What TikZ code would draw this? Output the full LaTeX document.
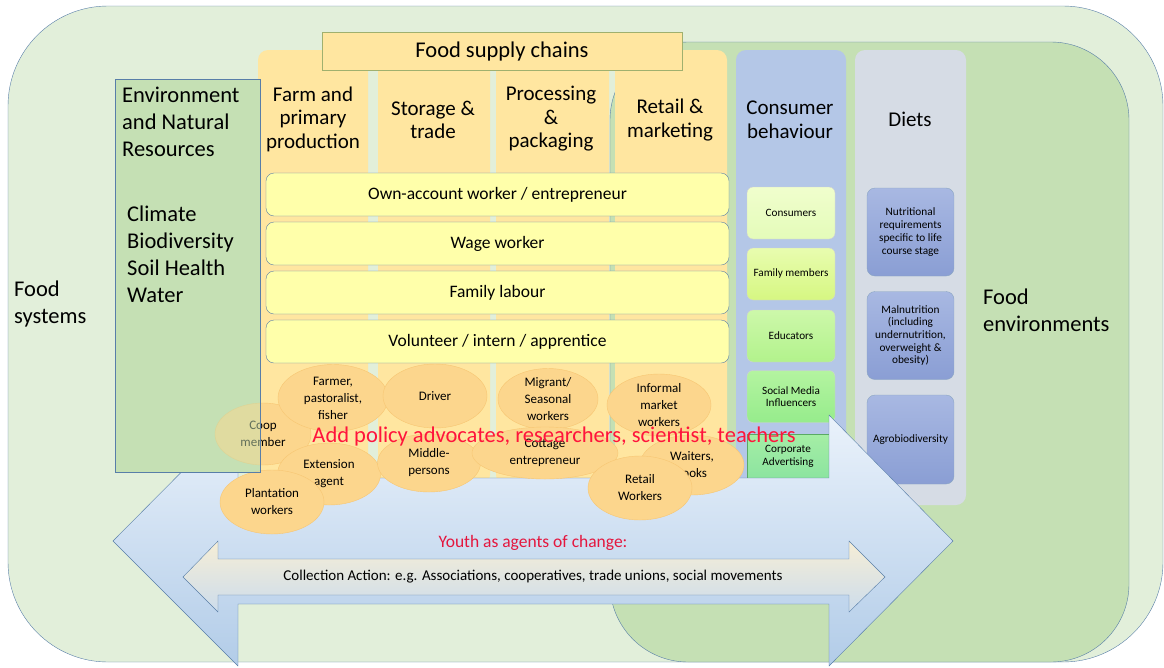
\documentclass[tikz,border=0pt]{standalone}
\usepackage{fontspec}
\setmainfont{Carlito}
\usetikzlibrary{shapes.geometric}

\definecolor{edgeblue}{RGB}{88,126,168}
\definecolor{sysgreen}{RGB}{226,239,218}
\definecolor{envgreen}{RGB}{197,224,180}
\definecolor{chainorange}{RGB}{255,230,160}
\definecolor{headedge}{RGB}{160,176,110}
\definecolor{rowyellow}{RGB}{255,255,170}
\definecolor{consblue}{RGB}{180,199,231}
\definecolor{dietgray}{RGB}{214,220,229}
\definecolor{blobfill}{RGB}{252,214,141}
\definecolor{blobedge}{RGB}{247,198,115}
\definecolor{alertred}{RGB}{255,20,60}
\definecolor{youthred}{RGB}{228,22,62}

\begin{document}
\begin{tikzpicture}[x=1pt, y=-1pt,
    column/.style={rounded corners=10pt},
    rowbox/.style={draw=edgeblue, fill=rowyellow, rounded corners=8pt, minimum width=463pt, minimum height=43pt, font=\fontsize{17.5}{20}\selectfont},
    cbox/.style={draw=black!18, rounded corners=6pt, minimum width=88pt, minimum height=52pt, align=center, inner sep=1pt, font=\fontsize{11.2}{12.7}\selectfont},
    dbox/.style={draw=edgeblue!70, rounded corners=8pt, top color={rgb,255:red,168;green,184;blue,226}, bottom color={rgb,255:red,138;green,158;blue,212}, minimum width=87pt, minimum height=88pt, align=center, inner sep=1pt, font=\fontsize{11.3}{12.7}\selectfont},
    blob/.style={ellipse, draw=blobedge, fill=blobfill, inner sep=0pt, align=center, font=\fontsize{13}{17}\selectfont},
    title/.style={align=center, font=\fontsize{21}{23.5}\selectfont},
    bigtext/.style={align=left, inner sep=0pt, font=\fontsize{22.5}{27}\selectfont}]
  \useasboundingbox (0,0) rectangle (1164,667);

  % Food systems and food environments
  \draw[edgeblue, fill=sysgreen] (8,6) [rounded corners=100pt] rectangle (1163,662);
  \draw[edgeblue, fill=envgreen] (610,42) [rounded corners=78pt] rectangle (1129,662);

  % Supply chain columns
  \fill[chainorange, column] (258,50) rectangle (368,485);
  \fill[chainorange, column] (378,50) rectangle (490,485);
  \fill[chainorange, column] (496,50) rectangle (609,485);
  \fill[chainorange, column] (615,50) rectangle (727,485);
  \fill[consblue, column] (736,50) rectangle (846,485);
  \fill[dietgray, column] (855,50) rectangle (966,505);

  \node[draw=headedge, fill=chainorange, minimum width=360pt, minimum height=38pt, font=\fontsize{22.5}{26}\selectfont] (chains) at (502,51.5) {Food supply chains};

  \node[title] (farm) at (313,119) {Farm and\\primary\\production};
  \node[title] (storage) at (433,120) {Storage \&\\trade};
  \node[title] (processing) at (551,119) {Processing\\\&\\packaging};
  \node[title] (retail) at (670,120) {Retail \&\\marketing};
  \node[title] (consumer) at (790,120) {Consumer\\behaviour};
  \node[title] (diets) at (910,119) {Diets};

  % Kinds of work
  \node[rowbox] (own) at (497.5,194.5) {Own-account worker / entrepreneur};
  \node[rowbox] (wage) at (497.5,243.5) {Wage worker};
  \node[rowbox] (family) at (497.5,292.5) {Family labour};
  \node[rowbox] (volunteer) at (497.5,341.5) {Volunteer / intern / apprentice};

  % Consumer behaviour boxes
  \node[cbox, top color={rgb,255:red,240;green,254;blue,205}, bottom color={rgb,255:red,228;green,252;blue,185}] (consumers) at (791,213) {Consumers};
  \node[cbox, top color={rgb,255:red,232;green,252;blue,175}, bottom color={rgb,255:red,214;green,247;blue,130}] (members) at (791,274) {Family members};
  \node[cbox, top color={rgb,255:red,205;green,248;blue,170}, bottom color={rgb,255:red,178;green,242;blue,140}] (educators) at (791,336) {Educators};
  \node[cbox, top color={rgb,255:red,180;green,244;blue,160}, bottom color={rgb,255:red,150;green,236;blue,140}] (influencers) at (791,396.5) {Social Media\\Influencers};
  \node[cbox, draw={rgb,255:red,90;green,170;blue,100}, rounded corners=0pt, minimum width=82pt, minimum height=44pt, top color={rgb,255:red,165;green,238;blue,165}, bottom color={rgb,255:red,140;green,228;blue,160}] (advertising) at (788,456) {Corporate\\Advertising};

  % Diets boxes
  \node[dbox] (requirements) at (910.5,232) {Nutritional\\requirements\\specific to life\\course stage};
  \node[dbox] (malnutrition) at (910.5,335.5) {Malnutrition\\(including\\undernutrition,\\overweight \&\\obesity)};
  \node[dbox, minimum height=89pt] (agro) at (910.5,439.5) {Agrobiodiversity};

  % Youth arrow
  \draw[edgeblue, top color={rgb,255:red,234;green,242;blue,251}, bottom color={rgb,255:red,178;green,204;blue,232}]
    (113,541) -- (238,415) -- (238,478) -- (829,478) -- (829,415) -- (953,541)
    -- (829,666) -- (829,604) -- (238,604) -- (238,666) -- cycle;
  \draw[edgeblue, top color={rgb,255:red,246;green,238;blue,214}, bottom color={rgb,255:red,204;green,220;blue,236}]
    (183,577) -- (218,541) -- (218,559) -- (849,559) -- (849,541) -- (885,577)
    -- (849,612) -- (849,595) -- (218,595) -- (218,612) -- cycle;

  % Environment box
  \draw[edgeblue, fill=envgreen] (115,79) rectangle (260,472);

  % Workers
  \node[blob, minimum width=96pt, minimum height=62pt] (coop) at (263,434) {Coop\\member};
  \node[blob, minimum width=110pt, minimum height=67pt] (farmer) at (333,398) {Farmer,\\pastoralist,\\fisher};
  \node[blob, minimum width=103pt, minimum height=62pt] (extension) at (329,474) {Extension\\agent};
  \node[blob, minimum width=104pt, minimum height=64pt] (plantation) at (272,502) {Plantation\\workers};
  \node[blob, minimum width=104pt, minimum height=64pt] (driver) at (435,396) {Driver};
  \node[blob, minimum width=103pt, minimum height=58pt] (middle) at (429,463) {Middle-\\persons};
  \node[blob, minimum width=100pt, minimum height=59pt] (migrant) at (548,399) {Migrant/\\Seasonal\\workers};
  \node[blob, minimum width=146pt, minimum height=52pt] (cottage) at (545,453) {Cottage\\entrepreneur};
  \node[blob, minimum width=104pt, minimum height=62pt] (informal) at (659,405) {Informal\\market\\workers};
  \node[blob, minimum width=104pt, minimum height=60pt] (waiters) at (692,465) {Waiters,\\cooks};
  \node[blob, minimum width=104pt, minimum height=64pt] (retailw) at (640,488) {Retail\\Workers};

  % Environment box seen through
  \fill[envgreen, opacity=0.5] (115,79) rectangle (260,472);
  \draw[edgeblue] (115,79) rectangle (260,472);

  \node[bigtext, anchor=west] (envtitle) at (122,122) {Environment\\and Natural\\Resources};
  \node[bigtext, anchor=west] (resources) at (127,254) {Climate\\Biodiversity\\Soil Health\\Water};
  \node[bigtext, anchor=west] (systems) at (14,304) {Food\\systems};
  \node[bigtext, anchor=west] (environments) at (983,310) {Food\\environments};

  % Notes
  \node[text=alertred, font=\fontsize{22.5}{26}\selectfont] (addnote) at (554,436) {Add policy advocates, researchers, scientist, teachers};
  \node[text=youthred, font=\fontsize{17.5}{20}\selectfont] (youth) at (533,543) {Youth as agents of change:};
  \node[font=\fontsize{15}{18}\selectfont] (action) at (533,577) {Collection Action: e.g. Associations, cooperatives, trade unions, social movements};
\end{tikzpicture}
\end{document}
